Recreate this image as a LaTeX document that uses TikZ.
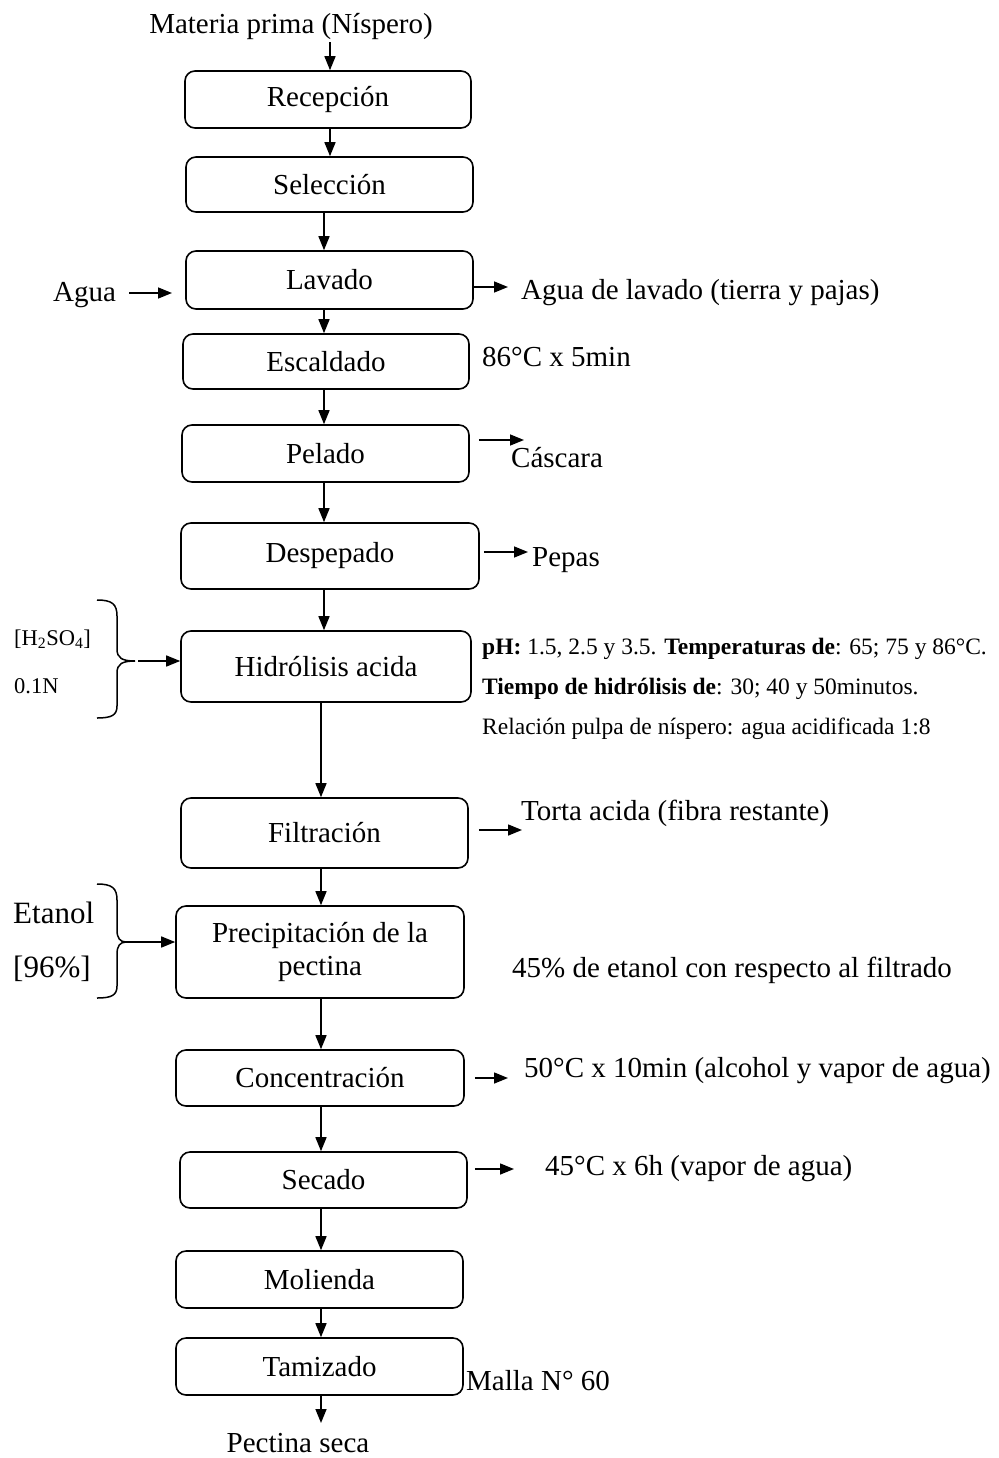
\documentclass[tikz,border=0pt]{standalone}
\usepackage{fontspec}
\setmainfont{Liberation Serif}
\usetikzlibrary{arrows.meta}
\begin{document}
\begin{tikzpicture}[x=1pt,y=-1pt,
  box/.style={draw, line width=1.6pt, rounded corners=10pt, inner sep=0pt, align=center,
    font=\fontsize{29}{33}\selectfont},
  lbl/.style={inner sep=0pt, anchor=base west, font=\fontsize{29}{32}\selectfont},
  slbl/.style={inner sep=0pt, anchor=base west, font=\fontsize{23.5}{28}\selectfont},
  arr/.style={line width=1.5pt, -{Triangle[length=14pt,width=11pt]}},
  brc/.style={line width=1.5pt}]
\useasboundingbox (0,0) rectangle (998,1458);

% process boxes
\node[box, minimum width=286, minimum height=57] (rec) at (328,99.5) {Recepción};
\node[box, minimum width=287, minimum height=55] (sel) at (329.5,184.5) {Selección};
\node[box, minimum width=287, minimum height=58] (lav) at (329.5,280) {Lavado};
\node[box, minimum width=286, minimum height=55] (esc) at (326,361.5) {Escaldado};
\node[box, minimum width=287, minimum height=57] (pel) at (325.5,453.5) {Pelado};
\node[box, minimum width=298, minimum height=66] (desp) at (330,556) {Despepado};
\node[box, minimum width=290, minimum height=71] (hid) at (326,666.5) {Hidrólisis acida};
\node[box, minimum width=287, minimum height=70] (fil) at (324.5,833) {Filtración};
\node[box, minimum width=288, minimum height=92] (pre) at (320,952) {Precipitación de la\\pectina};
\node[box, minimum width=288, minimum height=56] (con) at (320,1078) {Concentración};
\node[box, minimum width=287, minimum height=56] (sec) at (323.5,1180) {Secado};
\node[box, minimum width=287, minimum height=57] (mol) at (319.5,1279.5) {Molienda};
\node[box, minimum width=287, minimum height=57] (tam) at (319.5,1366.5) {Tamizado};

% start / end texts
\node[lbl, anchor=base] (mp) at (291,34) {Materia prima (Níspero)};
\node[lbl, anchor=base] (ps) at (298,1452) {Pectina seca};

% main vertical flow
\draw[arr] ([xshift=39pt,yshift=-2pt]mp.south) -- ([xshift=39pt]mp.south |- rec.north);
\draw[arr] ([xshift=2pt]rec.south) -- ([xshift=2pt]rec.south |- sel.north);
\draw[arr] ([xshift=-5.5pt]sel.south) -- ([xshift=-5.5pt]sel.south |- lav.north);
\draw[arr] ([xshift=-5.5pt]lav.south) -- ([xshift=-5.5pt]lav.south |- esc.north);
\draw[arr] ([xshift=-2pt]esc.south) -- ([xshift=-2pt]esc.south |- pel.north);
\draw[arr] ([xshift=-1.5pt]pel.south) -- ([xshift=-1.5pt]pel.south |- desp.north);
\draw[arr] ([xshift=-6pt]desp.south) -- ([xshift=-6pt]desp.south |- hid.north);
\draw[arr] ([xshift=-5pt]hid.south) -- ([xshift=-5pt]hid.south |- fil.north);
\draw[arr] ([xshift=-3.5pt]fil.south) -- ([xshift=-3.5pt]fil.south |- pre.north);
\draw[arr] ([xshift=1pt]pre.south) -- ([xshift=1pt]pre.south |- con.north);
\draw[arr] ([xshift=1pt]con.south) -- ([xshift=1pt]con.south |- sec.north);
\draw[arr] ([xshift=-2.5pt]sec.south) -- ([xshift=-2.5pt]sec.south |- mol.north);
\draw[arr] ([xshift=1.5pt]mol.south) -- ([xshift=1.5pt]mol.south |- tam.north);
\coordinate (psin) at (321,1423);
\draw[arr] (tam.south -| psin) -- (psin);

% side labels
\node[lbl] (agua) at (53,301) {Agua};
\coordinate (aguaE) at (172,293);
\draw[arr] (agua.east |- aguaE) ++(13,0) -- (aguaE);

\node[lbl] (lavout) at (521,299) {Agua de lavado (tierra y pajas)};
\coordinate (lavE) at (508,287);
\draw[arr] (lav.east |- lavE) -- (lavE);

\node[lbl] (escl) at (482,366) {86°C x 5min};

\node[lbl] (casc) at (511,467) {Cáscara};
\coordinate (pelE) at (524,440);
\draw[arr] ([xshift=9pt]pel.east |- pelE) -- (pelE);

\node[lbl] (pep) at (532,566) {Pepas};
\coordinate (despE) at (528,552);
\draw[arr] ([xshift=4pt]desp.east |- despE) -- (despE);

% hydrolysis inputs
\node[slbl, font=\fontsize{22.5}{26}\selectfont] (h2so4) at (14,645) {[H\textsubscript{2}SO\textsubscript{4}]};
\node[slbl, font=\fontsize{22.5}{26}\selectfont] (n01) at (14,693) {0.1N};
\draw[brc] (97,600) .. controls (112,600) and (117,604) .. (117,616) -- (117,649)
  .. controls (117,658) and (122,661) .. (135,661)
  .. controls (122,661) and (117,664) .. (117,673) -- (117,706)
  .. controls (117,715) and (112,718) .. (97,718);
\coordinate (brA) at (138,661);
\draw[arr] (brA) -- (hid.west |- brA);

\node[slbl] (hp1) at (482,654) {\textbf{pH:} 1.5, 2.5 y 3.5. \textbf{Temperaturas de}: 65; 75 y 86°C.};
\node[slbl] (hp2) at (482,694) {\textbf{Tiempo de hidrólisis de}: 30; 40 y 50minutos.};
\node[slbl] (hp3) at (482,734) {Relación pulpa de níspero: agua acidificada 1:8};

\node[lbl] (torta) at (521,820) {Torta acida (fibra restante)};
\coordinate (filE) at (522,830);
\draw[arr] ([xshift=10pt]fil.east |- filE) -- (filE);

% precipitation inputs
\node[lbl, font=\fontsize{31}{34}\selectfont] (etn) at (13,923) {Etanol};
\node[lbl, font=\fontsize{31}{34}\selectfont] (e96) at (13,977) {[96\%]};
\draw[brc] (97,884) .. controls (112,884) and (117,888) .. (117,900) -- (117,930)
  .. controls (117,938) and (120,942) .. (126,942)
  .. controls (120,942) and (117,946) .. (117,954) -- (117,986)
  .. controls (117,995) and (112,998) .. (97,998);
\coordinate (brB) at (124,942);
\draw[arr] (brB) -- (pre.west |- brB);

\node[lbl] (prel) at (512,977) {45\% de etanol con respecto al filtrado};

\node[lbl] (conl) at (524,1077) {50°C x 10min (alcohol y vapor de agua)};
\coordinate (conE) at (508,1078);
\draw[arr] ([xshift=10pt]con.east |- conE) -- (conE);

\node[lbl] (secl) at (545,1175) {45°C x 6h (vapor de agua)};
\coordinate (secE) at (514,1169);
\draw[arr] ([xshift=7pt]sec.east |- secE) -- (secE);

\node[lbl] (mal) at (466,1390) {Malla N° 60};
\end{tikzpicture}
\end{document}
